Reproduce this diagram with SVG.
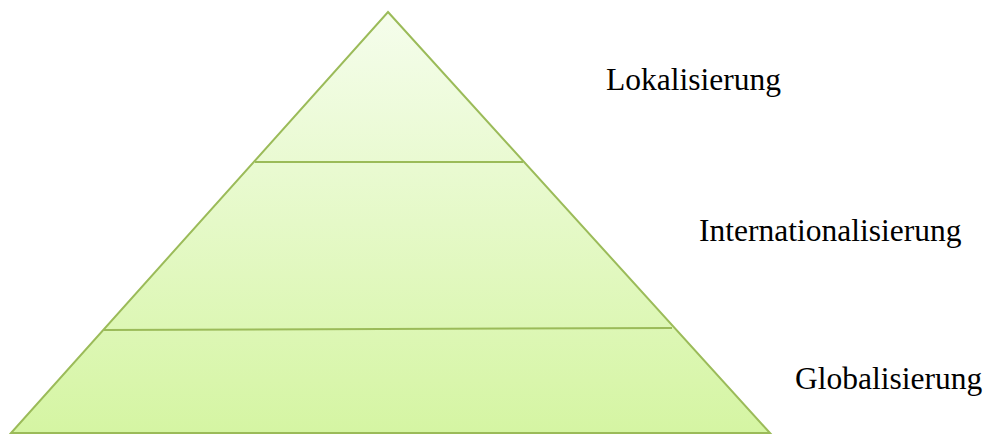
<svg xmlns="http://www.w3.org/2000/svg" width="985" height="435" viewBox="0 0 985 435">
<style>
.edge{stroke:#9bbb59;stroke-width:2;stroke-linejoin:miter}
.lbl{font-family:"Liberation Serif","Times New Roman",serif;font-size:31.5px;fill:#000}
</style>
<defs>
<linearGradient id="g" x1="0" y1="0" x2="0" y2="1">
<stop offset="0" stop-color="#f5fdec"/>
<stop offset="1" stop-color="#d5f5a3"/>
</linearGradient>
</defs>
<g id="pyramid">
<polygon points="388,12 770,433 11,433" fill="url(#g)" class="edge"/>
</g>
<g id="connectors">
<line x1="255" y1="162" x2="523" y2="162" class="edge"/>
<line x1="104" y1="330" x2="672" y2="328" class="edge"/>
</g>
<g id="label-lokalisierung"><text x="606" y="90" class="lbl">Lokalisierung</text></g>
<g id="label-internationalisierung"><text x="699" y="241" class="lbl">Internationalisierung</text></g>
<g id="label-globalisierung"><text x="795" y="389" class="lbl">Globalisierung</text></g>
</svg>
